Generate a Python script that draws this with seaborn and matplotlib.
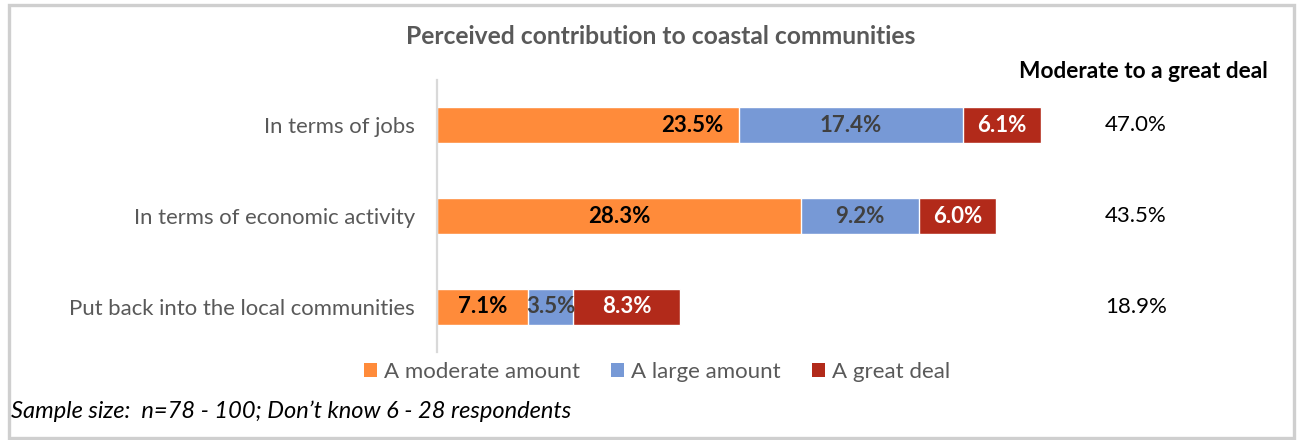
import matplotlib
matplotlib.use("Agg")
import matplotlib.pyplot as plt
from matplotlib.patches import Rectangle, Patch
import seaborn as sns
import pandas as pd

# Survey results (% of respondents)
categories = ["In terms of jobs", "In terms of economic activity", "Put back into the local communities"]
moderate = [23.5, 28.3, 7.1]
large = [17.4, 9.2, 3.5]
great = [6.1, 6.0, 8.3]
combined = [47.0, 43.5, 18.9]
series_names = ["A moderate amount", "A large amount", "A great deal"]

title = "Perceived contribution to coastal communities"
side_header = "Moderate to a great deal"
footnote = "Sample size:  n=78 - 100; Don\u2019t know 6 - 28 respondents"

sns.set_theme(style="white")
plt.rcParams["font.family"] = ["Lato", "DejaVu Sans"]

colors = ["#FF8B3A", "#7799D6", "#B22A1A"]
label_colors = ["#000000", "#404040", "#FFFFFF"]
grey_text = "#595959"

W, H = 1299, 440
fig = plt.figure(figsize=(W / 100, H / 100), dpi=100)
fig.patch.set_facecolor("white")

# axes placed in pixel terms
x0, x1 = 437, 1080
y_top, y_bot = 80, 352
ax = fig.add_axes([x0 / W, 1 - y_bot / H, (x1 - x0) / W, (y_bot - y_top) / H])

df = pd.DataFrame({
    "category": categories,
    "moderate": moderate,
    "large": large,
    "great": great,
})
df["cum_large"] = df["moderate"] + df["large"]
df["cum_great"] = df["cum_large"] + df["great"]

# stacked bars: draw the cumulative totals from the back to the front
for col, color in zip(["cum_great", "cum_large", "moderate"], colors[::-1]):
    sns.barplot(data=df, x=col, y="category", color=color, width=0.4,
                saturation=1, ax=ax, orient="h")

ax.set_xlim(0, 50)
ax.set_ylim(2.5, -0.5)
ax.set_xlabel("")
ax.set_ylabel("")
ax.set_xticks([])
ax.tick_params(axis="y", length=0, pad=16, labelsize=15.9, labelcolor=grey_text)
for s in ["top", "right", "bottom"]:
    ax.spines[s].set_visible(False)
ax.spines["left"].set_color("#D9D9D9")
ax.spines["left"].set_linewidth(1.6)

# segment value labels
for i in range(len(categories)):
    starts = [0, moderate[i], moderate[i] + large[i]]
    vals = [moderate[i], large[i], great[i]]
    for k, (s0, v) in enumerate(zip(starts, vals)):
        xc = s0 + v / 2
        ha = "center"
        if i == 0 and k == 0:
            xc = s0 + v - 1.2
            ha = "right"
        ax.text(xc, i, f"{v:.1f}%", ha=ha, va="center", fontsize=16,
                fontweight="bold", color=label_colors[k])

# combined column at right
fig.text(1143 / W, 1 - 71 / H, side_header, ha="center", va="center",
         fontsize=16.3, fontweight="bold", color="black")
for i, v in enumerate(combined):
    yy = ax.transData.transform((0, i))[1] / H
    fig.text(1136 / W, yy, f"{v:.1f}%", ha="center", va="center",
             fontsize=16, color="black")

fig.text(661 / W, 1 - 37 / H, title, ha="center", va="center",
         fontsize=17.7, fontweight="bold", color=grey_text)

handles = [Patch(facecolor=c, edgecolor="none") for c in colors]
fig.legend(handles, series_names, loc="center", bbox_to_anchor=(657 / W, 1 - 372 / H),
           ncol=3, frameon=False, fontsize=16, handlelength=0.6, handleheight=0.6,
           handletextpad=0.3, columnspacing=1.4, labelcolor=grey_text)

fig.text(11 / W, 1 - 411 / H, footnote, ha="left", va="center",
         fontsize=17, fontstyle="italic", color="black")

# outer frame
fig.patches.append(Rectangle((9 / W, 1 - 438 / H), (1294 - 9) / W, (438 - 5) / H,
                             transform=fig.transFigure, fill=False,
                             edgecolor="#CFCFCF", linewidth=2.4))

fig.savefig("out.png", dpi=100)
